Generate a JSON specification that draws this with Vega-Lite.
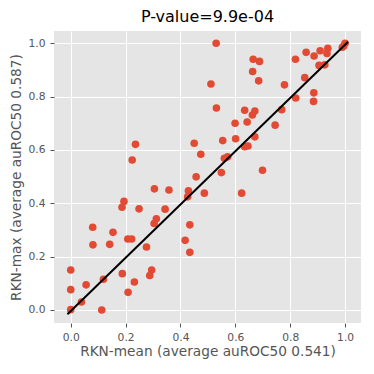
{
  "$schema": "https://vega.github.io/schema/vega-lite/v6.json",
  "width": 307,
  "height": 292,
  "autosize": {"type": "none"},
  "padding": {"left": 54, "top": 31, "right": 13, "bottom": 51},
  "background": "white",
  "title": {"text": "P-value=9.9e-04", "font": "DejaVu Sans", "fontSize": 16, "fontWeight": "normal", "color": "black", "offset": 6},
  "config": {
    "view": {"fill": "#E5E5E5", "stroke": null},
    "axis": {
      "labelFont": "DejaVu Sans", "labelFontSize": 10.7, "labelColor": "#555555",
      "titleFont": "DejaVu Sans", "titleFontSize": 13.7, "titleFontWeight": "normal", "titleColor": "#555555",
      "gridColor": "white", "gridWidth": 1, "gridOpacity": 1,
      "domain": false, "tickColor": "#555555", "tickSize": 4, "labelPadding": 5
    }
  },
  "datasets": {
    "pts": [
      {"mean": 0.236, "max": 0.621}, {"mean": 0.224, "max": 0.562}, {"mean": 0.530, "max": 1.0}, {"mean": 0.665, "max": 0.94},
      {"mean": 0.688, "max": 0.932}, {"mean": 0.663, "max": 0.894}, {"mean": 0.685, "max": 0.859}, {"mean": 0.511, "max": 0.847},
      {"mean": 0.531, "max": 0.757}, {"mean": 0.634, "max": 0.749}, {"mean": 0.671, "max": 0.746}, {"mean": 0.662, "max": 0.731},
      {"mean": 0.599, "max": 0.70}, {"mean": 0.643, "max": 0.705}, {"mean": 0.554, "max": 0.635}, {"mean": 0.601, "max": 0.642},
      {"mean": 0.671, "max": 0.649}, {"mean": 0.450, "max": 0.625}, {"mean": 0.634, "max": 0.612}, {"mean": 0.646, "max": 0.615},
      {"mean": 0.474, "max": 0.584}, {"mean": 0.560, "max": 0.569}, {"mean": 0.572, "max": 0.574}, {"mean": 0.457, "max": 0.499},
      {"mean": 0.549, "max": 0.515}, {"mean": 0.699, "max": 0.524}, {"mean": 0.858, "max": 0.966}, {"mean": 0.819, "max": 0.94},
      {"mean": 0.887, "max": 0.952}, {"mean": 0.909, "max": 0.972}, {"mean": 0.937, "max": 0.981}, {"mean": 0.934, "max": 0.962},
      {"mean": 0.905, "max": 0.917}, {"mean": 0.926, "max": 0.919}, {"mean": 0.99, "max": 0.985}, {"mean": 1.0, "max": 1.0},
      {"mean": 0.995, "max": 0.99}, {"mean": 0.853, "max": 0.871}, {"mean": 0.779, "max": 0.844}, {"mean": 0.886, "max": 0.814},
      {"mean": 0.82, "max": 0.795}, {"mean": 0.885, "max": 0.782}, {"mean": 0.769, "max": 0.751}, {"mean": 0.745, "max": 0.693},
      {"mean": 0.305, "max": 0.454}, {"mean": 0.194, "max": 0.407}, {"mean": 0.187, "max": 0.385}, {"mean": 0.249, "max": 0.379},
      {"mean": 0.080, "max": 0.31}, {"mean": 0.154, "max": 0.291}, {"mean": 0.312, "max": 0.342}, {"mean": 0.304, "max": 0.324},
      {"mean": 0.081, "max": 0.244}, {"mean": 0.142, "max": 0.246}, {"mean": 0.208, "max": 0.266}, {"mean": 0.222, "max": 0.266},
      {"mean": 0.276, "max": 0.236}, {"mean": 0.0, "max": 0.15}, {"mean": 0.188, "max": 0.136}, {"mean": 0.295, "max": 0.15},
      {"mean": 0.288, "max": 0.129}, {"mean": 0.056, "max": 0.094}, {"mean": 0.119, "max": 0.115}, {"mean": 0.232, "max": 0.105},
      {"mean": 0.0, "max": 0.076}, {"mean": 0.209, "max": 0.066}, {"mean": 0.039, "max": 0.03}, {"mean": 0.0, "max": 0.001},
      {"mean": 0.113, "max": 0.0}, {"mean": 0.358, "max": 0.45}, {"mean": 0.429, "max": 0.447}, {"mean": 0.426, "max": 0.424},
      {"mean": 0.487, "max": 0.438}, {"mean": 0.623, "max": 0.438}, {"mean": 0.344, "max": 0.378}, {"mean": 0.434, "max": 0.319},
      {"mean": 0.417, "max": 0.261}, {"mean": 0.434, "max": 0.216}
    ],
    "fit": [
      {"mean": -0.012, "max": -0.016},
      {"mean": 1.011, "max": 1.006}
    ]
  },
  "layer": [
    {
      "data": {"name": "pts"},
      "mark": {"type": "circle", "color": "#E24A33", "opacity": 1, "size": 58},
      "encoding": {
        "x": {"field": "mean", "type": "quantitative", "scale": {"domain": [-0.061, 1.058], "nice": false, "zero": false},
              "axis": {"values": [0, 0.2, 0.4, 0.6, 0.8, 1.0], "format": ".1f", "title": "RKN-mean (average auROC50 0.541)", "titlePadding": 3}},
        "y": {"field": "max", "type": "quantitative", "scale": {"domain": [-0.049, 1.046], "nice": false, "zero": false},
              "axis": {"values": [0, 0.2, 0.4, 0.6, 0.8, 1.0], "format": ".1f", "title": "RKN-max (average auROC50 0.587)", "titlePadding": 5}}
      }
    },
    {
      "data": {"name": "fit"},
      "mark": {"type": "line", "color": "black", "strokeWidth": 2},
      "encoding": {
        "x": {"field": "mean", "type": "quantitative"},
        "y": {"field": "max", "type": "quantitative"}
      }
    }
  ]
}
